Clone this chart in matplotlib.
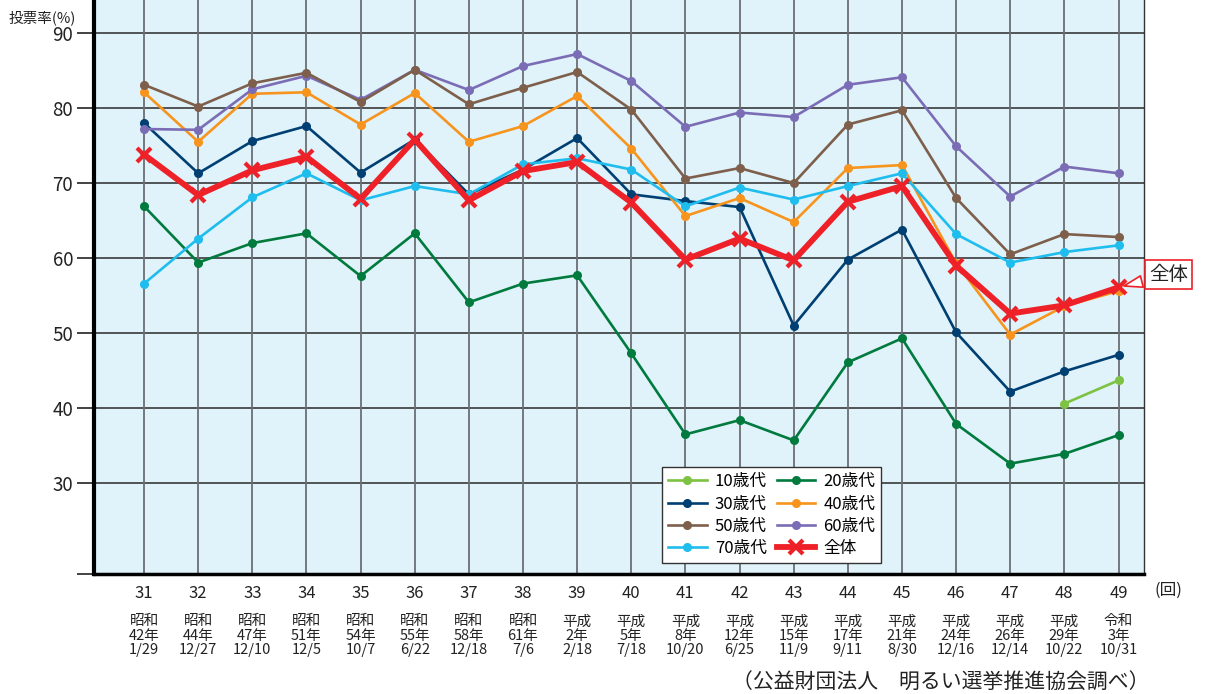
import matplotlib
matplotlib.use("Agg")
import matplotlib.pyplot as plt

plt.rcParams['font.family'] = ['Noto Sans CJK JP', 'DejaVu Sans']

# 衆議院議員総選挙 回次
elections = [31, 32, 33, 34, 35, 36, 37, 38, 39, 40, 41, 42, 43, 44, 45, 46, 47, 48, 49]
dates = ["昭和\n42年\n1/29", "昭和\n44年\n12/27", "昭和\n47年\n12/10", "昭和\n51年\n12/5",
         "昭和\n54年\n10/7", "昭和\n55年\n6/22", "昭和\n58年\n12/18", "昭和\n61年\n7/6",
         "平成\n2年\n2/18", "平成\n5年\n7/18", "平成\n8年\n10/20", "平成\n12年\n6/25",
         "平成\n15年\n11/9", "平成\n17年\n9/11", "平成\n21年\n8/30", "平成\n24年\n12/16",
         "平成\n26年\n12/14", "平成\n29年\n10/22", "令和\n3年\n10/31"]

# 年代別投票率 (%)
teens = [40.6, 43.7]  # 48回, 49回 only
twenties = [66.9, 59.4, 62.0, 63.3, 57.6, 63.3, 54.1, 56.6, 57.7, 47.3,
            36.5, 38.4, 35.7, 46.1, 49.3, 37.9, 32.6, 33.9, 36.4]
thirties = [78.0, 71.3, 75.6, 77.6, 71.4, 75.8, 68.5, 71.8, 76.0, 68.5,
            67.6, 66.8, 51.0, 59.8, 63.8, 50.1, 42.2, 44.9, 47.1]
forties = [82.1, 75.5, 81.9, 82.1, 77.8, 82.0, 75.5, 77.6, 81.6, 74.6,
           65.6, 68.0, 64.8, 72.0, 72.4, 59.3, 49.8, 53.6, 55.6]
fifties = [83.1, 80.2, 83.3, 84.7, 80.8, 85.1, 80.5, 82.7, 84.8, 79.8,
           70.6, 72.0, 70.0, 77.8, 79.7, 68.0, 60.5, 63.2, 62.8]
sixties = [77.2, 77.1, 82.5, 84.3, 81.1, 85.1, 82.4, 85.6, 87.2, 83.6,
           77.5, 79.4, 78.8, 83.1, 84.1, 74.9, 68.2, 72.2, 71.3]
seventies = [56.6, 62.6, 68.1, 71.3, 67.7, 69.6, 68.5, 72.5, 73.3, 71.8,
             66.9, 69.4, 67.8, 69.6, 71.3, 63.2, 59.4, 60.8, 61.7]
overall = [73.8, 68.4, 71.7, 73.5, 67.9, 75.8, 67.7, 71.6, 72.8, 67.4,
           59.8, 62.6, 59.7, 67.5, 69.6, 59.0, 52.6, 53.7, 56.1]

fig = plt.figure(figsize=(12.06, 6.94), dpi=100)
ax = fig.add_axes([0.078, 0.173, 0.871, 0.827])
ax.set_facecolor("#e0f2fa")

lw = 1.9
ms = 5.5
h10, = ax.plot(elections[-2:], teens, color="#7dc242", lw=lw, marker="o", ms=ms, label="10歳代")
h20, = ax.plot(elections, twenties, color="#007a3d", lw=lw, marker="o", ms=ms, label="20歳代")
h30, = ax.plot(elections, thirties, color="#003f72", lw=lw, marker="o", ms=ms, label="30歳代")
h40, = ax.plot(elections, forties, color="#f7941d", lw=lw, marker="o", ms=ms, label="40歳代")
h60, = ax.plot(elections, sixties, color="#7b6db5", lw=lw, marker="o", ms=ms, label="60歳代")
h50, = ax.plot(elections, fifties, color="#7d5f4b", lw=lw, marker="o", ms=ms, label="50歳代")
h70, = ax.plot(elections, seventies, color="#1fbdee", lw=lw, marker="o", ms=ms, label="70歳代")
hall, = ax.plot(elections, overall, color="#ee2128", lw=4.2, marker="x", ms=10, mew=3,
                label="全体")

ax.set_xlim(30.076, 49.48)
ax.set_ylim(17.9, 94.4)

ax.set_xticks(elections)
ax.set_xticklabels([str(e) for e in elections], fontsize=12, color="#222222")
ax.tick_params(axis="x", length=0, pad=8)
for e, d in zip(elections, dates):
    ax.text(e, -0.108, d, transform=ax.get_xaxis_transform(), ha="center", va="center",
            fontsize=10.5, linespacing=1.05, color="#222222")
ax.text(49.92, -0.028, "(回)", transform=ax.get_xaxis_transform(), ha="center", va="center",
        fontsize=12, color="#222222")

ax.set_yticks([17.9, 30, 40, 50, 60, 70, 80, 90])
ax.set_yticklabels(["", "30", "40", "50", "60", "70", "80", "90"], fontsize=13.5, color="#222222")
ax.tick_params(axis="y", direction="out", length=12, width=1.2, color="#222222", pad=3)

for y in [30, 40, 50, 60, 70, 80, 90]:
    ax.axhline(y, color="#2a2a2a", lw=1.1, zorder=0.5)
for e in elections:
    ax.axvline(e, color="#6a6f73", lw=1.3, zorder=0.5)

ax.spines["left"].set_linewidth(3)
ax.spines["bottom"].set_linewidth(2.5)
ax.spines["right"].set_linewidth(1)
ax.spines["right"].set_color("#333333")
ax.spines["top"].set_visible(False)

fig.text(0.007, 1 - 18 / 694, "投票率(%)", fontsize=10.5, va="center", ha="left", color="#222222")
fig.text(1150 / 1206, 1 - 683 / 694, "（公益財団法人　明るい選挙推進協会調べ）", fontsize=15,
         ha="right", va="center", color="#222222")

leg = ax.legend(handles=[h10, h30, h50, h70, h20, h40, h60, hall], ncol=2,
                loc="lower left", bbox_to_anchor=(0.541, 0.019), borderaxespad=0,
                fontsize=12, handlelength=2.3, columnspacing=0.6, handletextpad=0.5,
                labelspacing=0.32, fancybox=False, framealpha=1, edgecolor="#333333",
                borderpad=0.35)
leg.get_frame().set_linewidth(1)

ax.annotate("全体", xy=(49, overall[-1]), xytext=(36, 9), textcoords="offset points",
            fontsize=14, ha="center", va="center", color="#222222", annotation_clip=False,
            bbox=dict(boxstyle="square,pad=0.2", fc="white", ec="#ee2128", lw=1.2),
            arrowprops=dict(arrowstyle="wedge,tail_width=0.6,shrink_factor=0.5",
                            fc="white", ec="#ee2128", lw=1.2, shrinkB=4))

fig.savefig("out.png", dpi=100)
